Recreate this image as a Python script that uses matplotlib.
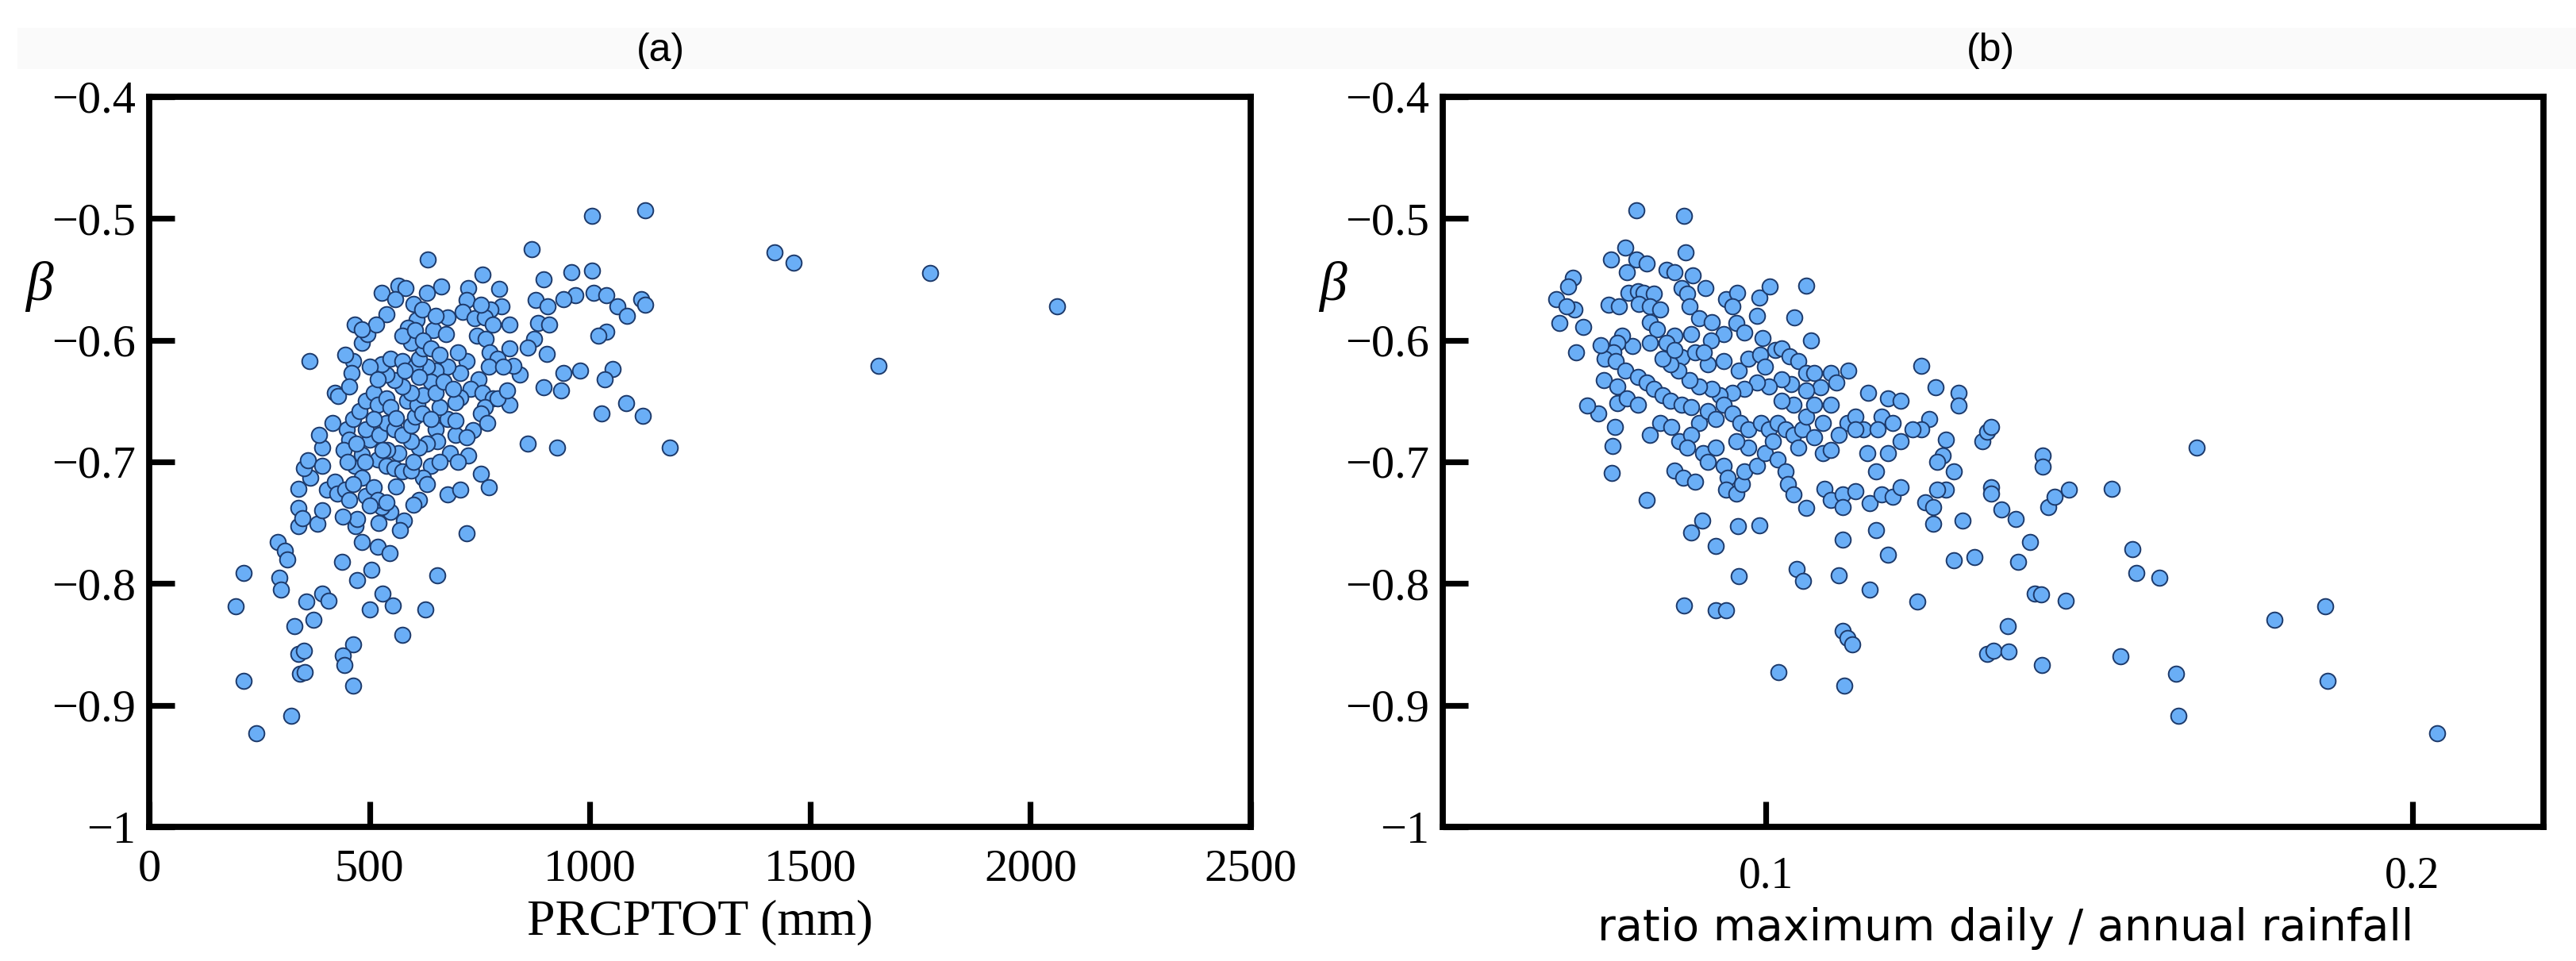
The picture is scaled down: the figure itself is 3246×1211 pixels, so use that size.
import matplotlib
matplotlib.use("Agg")
import matplotlib.pyplot as plt
from matplotlib.patches import Rectangle
import numpy as np

# ---------------- data ----------------
prcptot_mm = [
    1005, 1125, 868, 1419, 1462, 1772, 2061, 1656, 1182, 633, 958, 1005, 756, 896, 1008, 967, 941, 1038,
    1062, 1085, 1117, 1126, 877, 904, 883, 908, 874, 859, 902, 1038, 1019, 1051, 1033, 941, 978, 934,
    896, 1027, 1083, 1120, 859, 926, 818, 842, 827, 818, 799, 795, 775, 724, 720, 711, 678, 739, 663,
    631, 600, 566, 581, 527, 559, 538, 607, 588, 644, 674, 743, 764, 773, 790, 770, 747, 720, 706, 678,
    650, 631, 730, 706, 756, 780, 762, 752, 767, 734, 696, 720, 678, 696, 659, 683, 650, 654, 631, 612,
    594, 640, 622, 612, 631, 678, 706, 752, 771, 720, 654, 626, 575, 553, 530, 500, 504, 472, 519, 545,
    579, 569, 547, 528, 482, 469, 472, 437, 463, 439, 443, 463, 372, 357, 392, 407, 330, 338, 351, 342,
    353, 323, 243, 215, 215, 196, 291, 308, 314, 295, 299, 381, 338, 338, 347, 338, 366, 351, 360, 392,
    392, 385, 364, 392, 403, 422, 426, 444, 416, 422, 429, 448, 463, 454, 441, 467, 482, 463, 491, 454,
    510, 519, 500, 538, 482, 500, 491, 519, 538, 556, 575, 594, 566, 523, 538, 478, 491, 510, 519, 538,
    547, 556, 575, 594, 603, 560, 585, 609, 622, 594, 575, 556, 538, 528, 547, 575, 603, 612, 622, 594,
    575, 603, 622, 640, 659, 640, 612, 650, 668, 482, 463, 459, 454, 444, 495, 515, 500, 519, 467, 482,
    724, 696, 790, 813, 803, 818, 762, 780, 752,
    540, 600, 560, 620, 580, 530, 510, 490, 470, 450, 640, 660, 700, 700, 690, 620, 650, 440, 520, 600,
]
beta_a = [
    -0.498, -0.493, -0.525, -0.528, -0.536, -0.545, -0.572, -0.621, -0.688, -0.534, -0.544, -0.543, -0.546,
    -0.550, -0.561, -0.563, -0.566, -0.563, -0.572, -0.580, -0.566, -0.571, -0.567, -0.572, -0.586, -0.587,
    -0.599, -0.606, -0.611, -0.593, -0.596, -0.624, -0.632, -0.627, -0.625, -0.641, -0.639, -0.660, -0.652,
    -0.662, -0.685, -0.688, -0.653, -0.628, -0.621, -0.587, -0.572, -0.558, -0.575, -0.557, -0.567, -0.577,
    -0.581, -0.582, -0.556, -0.561, -0.570, -0.555, -0.557, -0.561, -0.566, -0.579, -0.583, -0.590, -0.592,
    -0.595, -0.596, -0.599, -0.610, -0.615, -0.622, -0.632, -0.617, -0.627, -0.622, -0.625, -0.622, -0.640,
    -0.647, -0.643, -0.648, -0.655, -0.660, -0.668, -0.674, -0.678, -0.680, -0.665, -0.651, -0.655, -0.693,
    -0.673, -0.683, -0.685, -0.688, -0.683, -0.703, -0.713, -0.731, -0.718, -0.727, -0.723, -0.710, -0.721,
    -0.759, -0.793, -0.821, -0.842, -0.818, -0.808, -0.821, -0.789, -0.797, -0.770, -0.775, -0.748, -0.756,
    -0.741, -0.737, -0.766, -0.753, -0.747, -0.782, -0.850, -0.859, -0.867, -0.884, -0.830, -0.815, -0.808,
    -0.814, -0.835, -0.858, -0.855, -0.874, -0.873, -0.909, -0.923, -0.880, -0.791, -0.819, -0.766, -0.773,
    -0.780, -0.795, -0.805, -0.751, -0.753, -0.738, -0.746, -0.722, -0.713, -0.705, -0.699, -0.703, -0.688,
    -0.678, -0.617, -0.740, -0.723, -0.716, -0.726, -0.723, -0.668, -0.643, -0.646, -0.673, -0.665, -0.682,
    -0.690, -0.703, -0.713, -0.718, -0.728, -0.731, -0.721, -0.731, -0.736, -0.733, -0.694, -0.682, -0.673,
    -0.698, -0.703, -0.705, -0.708, -0.707, -0.693, -0.678, -0.668, -0.658, -0.650, -0.643, -0.653, -0.648,
    -0.655, -0.673, -0.678, -0.670, -0.663, -0.664, -0.650, -0.653, -0.645, -0.643, -0.638, -0.633, -0.628,
    -0.620, -0.615, -0.617, -0.622, -0.615, -0.607, -0.602, -0.596, -0.592, -0.600, -0.607, -0.612, -0.634,
    -0.630, -0.643, -0.634, -0.602, -0.617, -0.627, -0.638, -0.612, -0.595, -0.587, -0.622, -0.632, -0.587,
    -0.591, -0.695, -0.666, -0.648, -0.641, -0.622, -0.607, -0.581, -0.587, -0.571,
    -0.690, -0.700, -0.720, -0.660, -0.625, -0.690, -0.665, -0.700, -0.685, -0.700, -0.665, -0.700, -0.700,
    -0.610, -0.640, -0.575, -0.580, -0.745, -0.750, -0.735,
]

ratio_max = [
    0.0800, 0.0873, 0.0876, 0.0783, 0.0760, 0.0800, 0.0815, 0.0785, 0.0846, 0.0859, 0.0887, 0.0701, 0.0694,
    0.0676, 0.0681, 0.0704, 0.0691, 0.0717, 0.0757, 0.0773, 0.0787, 0.0802, 0.0811, 0.0827, 0.0803, 0.0821,
    0.0837, 0.0821, 0.0869, 0.0878, 0.0907, 0.0938, 0.0956, 0.0990, 0.1006, 0.1062, 0.0986, 0.1044, 0.1070,
    0.0995, 0.0948, 0.0882, 0.0897, 0.0916, 0.0954, 0.0967, 0.0935, 0.0915, 0.0884, 0.0859, 0.0846, 0.0869,
    0.0891, 0.0910, 0.0935, 0.0904, 0.0958, 0.0973, 0.0991, 0.0999, 0.1014, 0.1024, 0.1037, 0.1050, 0.1062,
    0.1075, 0.1100, 0.1128, 0.1109, 0.1085, 0.1062, 0.1039, 0.1024, 0.1005, 0.0986, 0.0967, 0.0948, 0.0929,
    0.0916, 0.0897, 0.0882, 0.0865, 0.0853, 0.0840, 0.0859, 0.0831, 0.0821, 0.0793, 0.0777, 0.0770, 0.0764,
    0.0751, 0.0768, 0.0783, 0.0802, 0.0815, 0.0827, 0.0840, 0.0853, 0.0869, 0.0884, 0.0897, 0.0910, 0.0922,
    0.0935, 0.0948, 0.0961, 0.0973, 0.0992, 0.1005, 0.1018, 0.1030, 0.1043, 0.1056, 0.1075, 0.1088, 0.1100,
    0.1126, 0.1139, 0.1151, 0.1179, 0.1196, 0.1209, 0.1189, 0.1170, 0.1157, 0.1158, 0.1189, 0.1209, 0.1240,
    0.1262, 0.1298, 0.1298, 0.1253, 0.1240, 0.1227, 0.1278, 0.1274, 0.1265, 0.1291, 0.1278, 0.1265, 0.1247,
    0.1259, 0.1259, 0.1304, 0.1335, 0.1342, 0.1348, 0.1428, 0.1428, 0.1348, 0.1348, 0.1365, 0.1387, 0.1408,
    0.1390, 0.1323, 0.1291, 0.1437, 0.1447, 0.1469, 0.1535, 0.1567, 0.1573, 0.1609, 0.1666, 0.1416, 0.1426,
    0.1464, 0.1374, 0.1342, 0.1352, 0.1376, 0.1427, 0.1548, 0.1634, 0.1638, 0.1787, 0.1865, 0.1869, 0.2038,
    0.1234, 0.1160, 0.1113, 0.1119, 0.1170, 0.1189, 0.1047, 0.1058, 0.1119, 0.1126, 0.1133, 0.1121, 0.1019,
    0.0990, 0.0957, 0.0958, 0.0922, 0.0901, 0.0884, 0.0922, 0.0938, 0.0873, 0.0816, 0.0762, 0.0763, 0.0767,
    0.0770, 0.0741, 0.0723, 0.0749, 0.0744, 0.0770, 0.0785, 0.0802, 0.0821, 0.0836, 0.0854, 0.0866, 0.0884,
    0.0878, 0.0903, 0.0859, 0.0872, 0.0891, 0.0910, 0.0922, 0.0935, 0.0941, 0.0938, 0.0954, 0.0963, 0.0967,
    0.0986, 0.0999, 0.1018, 0.1030, 0.1034, 0.1043, 0.1062, 0.1090, 0.1100, 0.1119, 0.1139, 0.1161, 0.1179,
    0.1196, 0.1209, 0.1119, 0.0973, 0.0954, 0.1011, 0.1050, 0.1062, 0.1043, 0.1024, 0.1075, 0.1088, 0.1113,
    0.1139, 0.1173, 0.1100, 0.0706,
]
beta_b = [
    -0.493, -0.498, -0.528, -0.524, -0.534, -0.534, -0.537, -0.544, -0.542, -0.544, -0.547, -0.549, -0.556,
    -0.566, -0.586, -0.575, -0.572, -0.589, -0.571, -0.572, -0.561, -0.560, -0.561, -0.562, -0.570, -0.572,
    -0.575, -0.585, -0.557, -0.562, -0.557, -0.566, -0.561, -0.565, -0.556, -0.555, -0.580, -0.581, -0.600,
    -0.598, -0.572, -0.572, -0.582, -0.585, -0.586, -0.594, -0.595, -0.600, -0.595, -0.596, -0.602, -0.614,
    -0.610, -0.620, -0.617, -0.610, -0.625, -0.615, -0.612, -0.622, -0.608, -0.607, -0.613, -0.617, -0.627,
    -0.627, -0.627, -0.625, -0.635, -0.639, -0.641, -0.636, -0.632, -0.638, -0.635, -0.640, -0.643, -0.645,
    -0.640, -0.638, -0.633, -0.625, -0.620, -0.615, -0.608, -0.591, -0.602, -0.605, -0.596, -0.602, -0.610,
    -0.615, -0.617, -0.625, -0.630, -0.635, -0.640, -0.645, -0.650, -0.653, -0.655, -0.668, -0.658, -0.665,
    -0.653, -0.660, -0.668, -0.673, -0.668, -0.673, -0.668, -0.673, -0.678, -0.673, -0.680, -0.693, -0.690,
    -0.668, -0.663, -0.673, -0.663, -0.668, -0.683, -0.693, -0.708, -0.693, -0.643, -0.648, -0.650, -0.621,
    -0.639, -0.643, -0.654, -0.665, -0.673, -0.673, -0.682, -0.695, -0.700, -0.708, -0.723, -0.723, -0.733,
    -0.737, -0.751, -0.748, -0.683, -0.675, -0.671, -0.695, -0.704, -0.721, -0.726, -0.739, -0.747, -0.766,
    -0.782, -0.778, -0.781, -0.737, -0.729, -0.723, -0.722, -0.772, -0.791, -0.795, -0.688, -0.808, -0.809,
    -0.814, -0.835, -0.858, -0.855, -0.856, -0.867, -0.860, -0.874, -0.909, -0.830, -0.819, -0.880, -0.923,
    -0.815, -0.805, -0.793, -0.764, -0.756, -0.776, -0.788, -0.798, -0.839, -0.845, -0.850, -0.884, -0.873,
    -0.752, -0.753, -0.794, -0.769, -0.748, -0.758, -0.822, -0.822, -0.818, -0.731, -0.709, -0.687, -0.671,
    -0.652, -0.660, -0.654, -0.633, -0.604, -0.638, -0.648, -0.653, -0.678, -0.668, -0.671, -0.683, -0.678,
    -0.688, -0.693, -0.707, -0.713, -0.716, -0.700, -0.688, -0.703, -0.713, -0.723, -0.726, -0.718, -0.708,
    -0.703, -0.693, -0.698, -0.708, -0.718, -0.727, -0.738, -0.722, -0.731, -0.727, -0.724, -0.734, -0.727,
    -0.729, -0.721, -0.737, -0.688, -0.683, -0.683, -0.688, -0.663, -0.653, -0.650, -0.653, -0.668, -0.678,
    -0.673, -0.673, -0.653, -0.610,
]

y_ticks = [-1.0, -0.9, -0.8, -0.7, -0.6, -0.5, -0.4]
y_ticklabels = ["\u22121", "\u22120.9", "\u22120.8", "\u22120.7", "\u22120.6", "\u22120.5", "\u22120.4"]
xa_ticks = [0, 500, 1000, 1500, 2000, 2500]
xa_ticklabels = ["0", "500", "1000", "1500", "2000", "2500"]
xb_ticks = [0.1, 0.2]
xb_ticklabels = ["0.1", "0.2"]

# ---------------- figure ----------------
W, H, DPI = 3246, 1211, 200
fig = plt.figure(figsize=(W / DPI, H / DPI), dpi=DPI)
fig.patch.set_facecolor("white")

# faint title band
fig.patches.append(Rectangle((22 / W, 1 - 87 / H), 1 - 22 / W, 52 / H,
                             transform=fig.transFigure, facecolor="#fafafa",
                             edgecolor="none", zorder=0))

serif = ["Liberation Serif", "DejaVu Serif"]
face = "#6aaef6"
edge = "#1d3a6b"

ax1 = fig.add_axes([188 / W, 1 - 1042 / H, 1388 / W, 920 / H])
ax2 = fig.add_axes([1818 / W, 1 - 1042 / H, 1387 / W, 920 / H])

for ax in (ax1, ax2):
    ax.set_ylim(-1.0, -0.4)
    ax.set_yticks(y_ticks)
    ax.set_yticklabels(y_ticklabels, family=serif, fontsize=21)
    for sp in ax.spines.values():
        sp.set_linewidth(2.8)
    ax.tick_params(axis="both", direction="in", length=11.5, width=2.6, color="black")
    ax.tick_params(axis="y", pad=6)
    ax.text(-0.10, 0.74, "\u03b2", transform=ax.transAxes, family=serif,
            style="italic", fontsize=25, ha="center", va="center")

ax1.scatter(prcptot_mm, beta_a, s=50, c=face, edgecolors=edge, linewidths=0.7, zorder=3)
ax1.set_xlim(0, 2500)
ax1.set_xticks(xa_ticks)
ax1.set_xticklabels(xa_ticklabels, family=serif, fontsize=21)
ax1.tick_params(axis="x", pad=10)
ax1.set_xlabel("PRCPTOT (mm)", family=serif, fontsize=23)
ax1.xaxis.label.set_verticalalignment("center")
ax1.xaxis.set_label_coords(0.5, -0.131)

ax2.scatter(ratio_max, beta_b, s=50, c=face, edgecolors=edge, linewidths=0.7, zorder=3)
ax2.set_xlim(0.05, 0.2203)
ax2.set_xticks(xb_ticks)
ax2.set_xticklabels(xb_ticklabels, family=serif, fontsize=20)
ax2.tick_params(axis="x", pad=13)
ax2.set_xlabel("ratio maximum daily / annual rainfall", family=["DejaVu Sans"], fontsize=20)
ax2.xaxis.label.set_verticalalignment("center")
ax2.xaxis.set_label_coords(0.511, -0.139)

fig.text(832 / W, 1 - 64 / H, "(a)", family=["Liberation Sans"], fontsize=18,
         ha="center", va="center")
fig.text(2508 / W, 1 - 64 / H, "(b)", family=["Liberation Sans"], fontsize=18,
         ha="center", va="center")

fig.savefig("out.png", dpi=DPI)
